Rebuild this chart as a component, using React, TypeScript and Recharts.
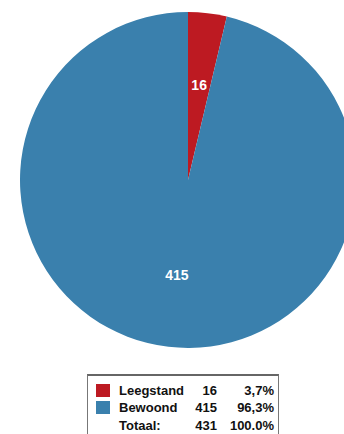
import React from 'react';
import { PieChart, Pie, Cell, Legend } from 'recharts';

// Housing occupancy: vacant vs. occupied dwellings
const categories = ['Leegstand', 'Bewoond'];
const counts = [16, 415];
const colors = ['#bd1a22', '#3a80ad'];
const totalName = 'Totaal:';
const totalPercent = '100.0%';

const data = categories.map((name, i) => ({ name, value: counts[i] }));
const total = counts.reduce((a, b) => a + b, 0);
const pct = (v: number) => ((v / total) * 100).toFixed(1).replace('.', ',') + '%';

const RADIAN = Math.PI / 180;
const FONT = '"Liberation Sans", Arial, sans-serif';

const renderLabel = (props: any) => {
  const { cx, cy, midAngle, outerRadius, value } = props;
  const r = outerRadius * 0.57;
  const x = cx + r * Math.cos(-midAngle * RADIAN);
  const y = cy + r * Math.sin(-midAngle * RADIAN);
  return (
    <text
      x={x}
      y={y}
      fill="#ffffff"
      textAnchor="middle"
      dominantBaseline="central"
      fontFamily={FONT}
      fontWeight="bold"
      fontSize={14}
    >
      {value}
    </text>
  );
};

const rowTops = [7, 24, 42];

const LegendBox = () => {
  const rows = [
    ...data.map((d, i) => ({ swatch: colors[i], name: d.name, count: String(d.value), percent: pct(d.value) })),
    { swatch: null as string | null, name: totalName, count: String(total), percent: totalPercent },
  ];
  return (
    <div
      style={{
        position: 'relative',
        width: 190,
        height: 62,
        borderLeft: '1px solid #777',
        borderRight: '1px solid #777',
        borderTop: '2px solid #666',
        background: '#fff',
        fontFamily: FONT,
        fontWeight: 'bold',
        fontSize: 13,
        color: '#111',
      }}
    >
      {rows.map((row, i) => (
        <div key={row.name} style={{ position: 'absolute', left: 0, top: rowTops[i], width: 190, height: 16, lineHeight: '16px' }}>
          {row.swatch && (
            <div style={{ position: 'absolute', left: 8, top: 1, width: 14, height: 13, background: row.swatch }} />
          )}
          <span style={{ position: 'absolute', left: 31 }}>{row.name}</span>
          <span style={{ position: 'absolute', left: 90, width: 39, textAlign: 'right' }}>{row.count}</span>
          <span style={{ position: 'absolute', left: 130, width: 56, textAlign: 'right' }}>{row.percent}</span>
        </div>
      ))}
    </div>
  );
};

export default function App() {
  return (
    <div style={{ position: 'absolute', left: 0, top: 0, width: 344, height: 434, overflow: 'hidden', background: '#fff' }}>
      <PieChart width={344} height={434} margin={{ top: 0, right: 0, bottom: 0, left: 0 }}>
        <Pie
          data={data}
          dataKey="value"
          nameKey="name"
          cx={188}
          cy={180}
          outerRadius={168}
          startAngle={90}
          endAngle={-270}
          stroke="none"
          label={renderLabel}
          labelLine={false}
          isAnimationActive={false}
        >
          {data.map((d, i) => (
            <Cell key={d.name} fill={colors[i]} />
          ))}
        </Pie>
        <Legend
          content={() => <LegendBox />}
          wrapperStyle={{ position: 'absolute', left: 87, top: 374, width: 192, height: 64 }}
        />
      </PieChart>
    </div>
  );
}
